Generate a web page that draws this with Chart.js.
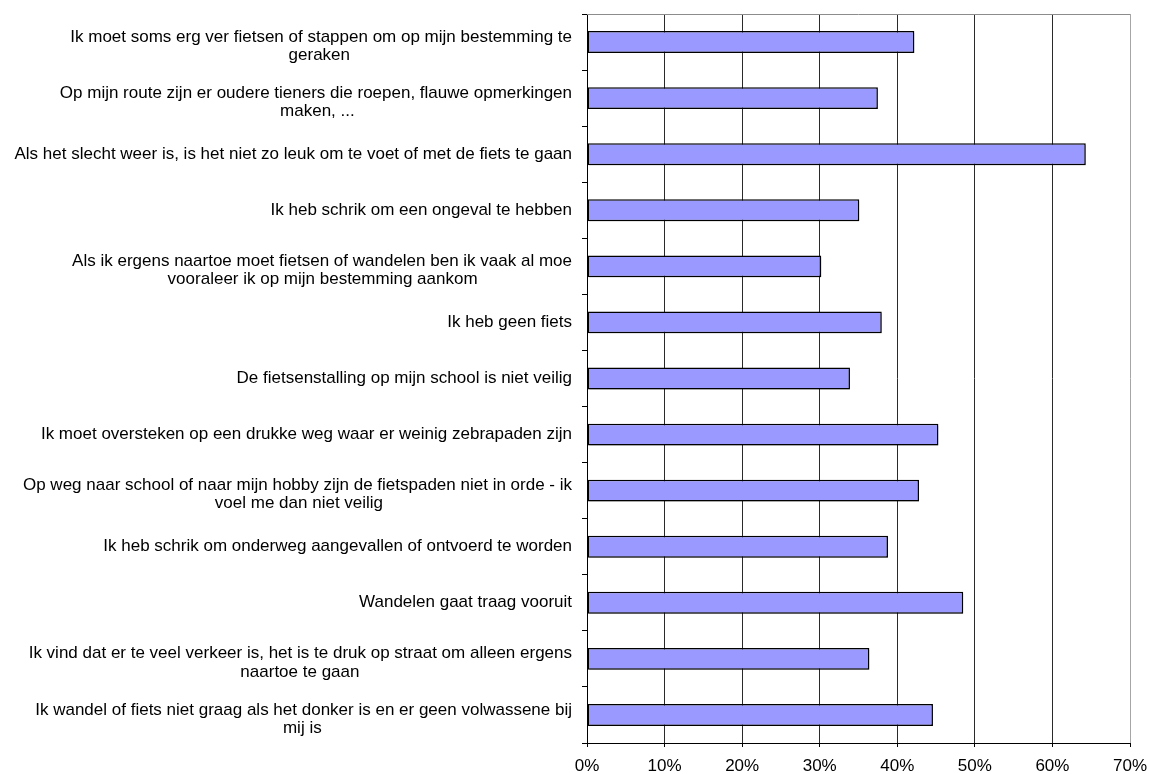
<!DOCTYPE html>
<html>
<head>
<meta charset="utf-8">
<script src="https://cdn.jsdelivr.net/npm/chart.js@4.4.1/dist/chart.umd.min.js"></script>
<style>
html,body{margin:0;padding:0;background:#fff;}
#wrap{width:1149px;height:774px;position:relative;}
</style>
</head>
<body>
<div id="wrap"><canvas id="c"></canvas></div>
<script>
const categories = [
  ["Ik moet soms erg ver fietsen of stappen om op mijn bestemming te", "geraken"],
  ["Op mijn route zijn er oudere tieners die roepen, flauwe opmerkingen", "maken, ..."],
  "Als het slecht weer is, is het niet zo leuk om te voet of met de fiets te gaan",
  "Ik heb schrik om een ongeval te hebben",
  ["Als ik ergens naartoe moet fietsen of wandelen ben ik vaak al moe", "vooraleer ik op mijn bestemming aankom"],
  "Ik heb geen fiets",
  "De fietsenstalling op mijn school is niet veilig",
  "Ik moet oversteken op een drukke weg waar er weinig zebrapaden zijn",
  ["Op weg naar school of naar mijn hobby zijn de fietspaden niet in orde - ik", "voel me dan niet veilig"],
  "Ik heb schrik om onderweg aangevallen of ontvoerd te worden",
  "Wandelen gaat traag vooruit",
  ["Ik vind dat er te veel verkeer is, het is te druk op straat om alleen ergens", "naartoe te gaan"],
  ["Ik wandel of fiets niet graag als het donker is en er geen volwassene bij", "mij is"]
];
const values = [42.2, 37.5, 64.3, 35.1, 30.2, 38.0, 33.9, 45.3, 42.8, 38.8, 48.5, 36.4, 44.6];
const xTickValues = [0, 10, 20, 30, 40, 50, 60, 70];

const FAMILY = '"Liberation Sans", Arial, sans-serif';
const FSIZE = 17;
const mctx = document.createElement('canvas').getContext('2d');
mctx.font = FSIZE + 'px ' + FAMILY;
function centerLines(label) {
  if (!Array.isArray(label)) return label;
  const widths = label.map(l => mctx.measureText(l).width);
  const maxW = Math.max(...widths);
  const sp = mctx.measureText(' ').width;
  return label.map((l, i) => {
    const n = Math.round((maxW - widths[i]) / 2 / sp);
    return l + ' '.repeat(n);
  });
}

const extras = {
  id: 'extras',
  beforeDraw(chart) {
    const s = chart.scales.y;
    if (s && !s._mlPatched && typeof s._computeLabelItems === 'function') {
      const orig = s._computeLabelItems.bind(s);
      s._computeLabelItems = function(area) {
        const items = orig(area);
        items.forEach(it => {
          if (Array.isArray(it.label) && it.label.length > 1 && it.options && it.options.translation) {
            it.options.translation = [it.options.translation[0], it.options.translation[1] + 4];
          }
        });
        return items;
      };
      s._mlPatched = true;
      s._labelItems = null;
    }
  },
  beforeDatasetsDraw(chart) {
    const ctx = chart.ctx;
    ctx.save();
    ctx.shadowColor = 'rgba(0,0,0,0.22)';
    ctx.shadowOffsetX = 2;
    ctx.shadowOffsetY = 2;
    ctx.shadowBlur = 0;
  },
  afterDatasetsDraw(chart) {
    chart.ctx.restore();
  },
  afterDraw(chart) {
    const {ctx, chartArea} = chart;
    ctx.save();
    ctx.strokeStyle = '#8c8c8c';
    ctx.lineWidth = 1;
    ctx.beginPath();
    ctx.moveTo(chartArea.left, chartArea.top + 0.5);
    ctx.lineTo(chartArea.right, chartArea.top + 0.5);
    ctx.stroke();
    ctx.restore();
  }
};

new Chart(document.getElementById('c'), {
  type: 'bar',
  data: {
    labels: categories,
    datasets: [{
      data: values,
      backgroundColor: '#9999ff',
      borderColor: '#000000',
      borderWidth: 1.5,
      borderSkipped: false,
      barPercentage: 0.39,
      categoryPercentage: 1.0
    }]
  },
  options: {
    indexAxis: 'y',
    responsive: true,
    maintainAspectRatio: false,
    animation: false,
    layout: {padding: {top: 14, right: 19, left: 0, bottom: 0}},
    plugins: {legend: {display: false}, tooltip: {enabled: false}},
    scales: {
      x: {
        min: 0, max: 70,
        afterBuildTicks(scale) { scale.ticks = xTickValues.map(v => ({value: v})); },
        afterFit(scale) {
          scale.height = 774 - 743;
          scale.paddingLeft = 0; scale.paddingRight = 0;
        },
        ticks: {
          callback: v => v + '%',
          color: '#000',
          font: {family: FAMILY, size: FSIZE},
          padding: 9,
          maxRotation: 0
        },
        grid: {
          color: ctx => ctx.index === xTickValues.length - 1 ? '#a6a6a6' : '#2a2a2a',
          lineWidth: 1,
          tickLength: 4,
          tickColor: '#000'
        },
        border: {display: true, color: '#000', width: 1}
      },
      y: {
        afterFit(scale) {
          scale.width = 587;
          scale.paddingTop = 0; scale.paddingBottom = 0;
        },
        ticks: {
          callback: function(v, i) { return centerLines(categories[i]); },
          color: '#000',
          font: {family: FAMILY, size: FSIZE, lineHeight: 1.07},
          padding: 10,
          autoSkip: false,
          crossAlign: 'near'
        },
        grid: {
          drawOnChartArea: false,
          tickLength: 5,
          tickColor: '#000',
          offset: true
        },
        border: {display: true, color: '#000', width: 1}
      }
    }
  },
  plugins: [extras]
});
</script>
</body>
</html>
